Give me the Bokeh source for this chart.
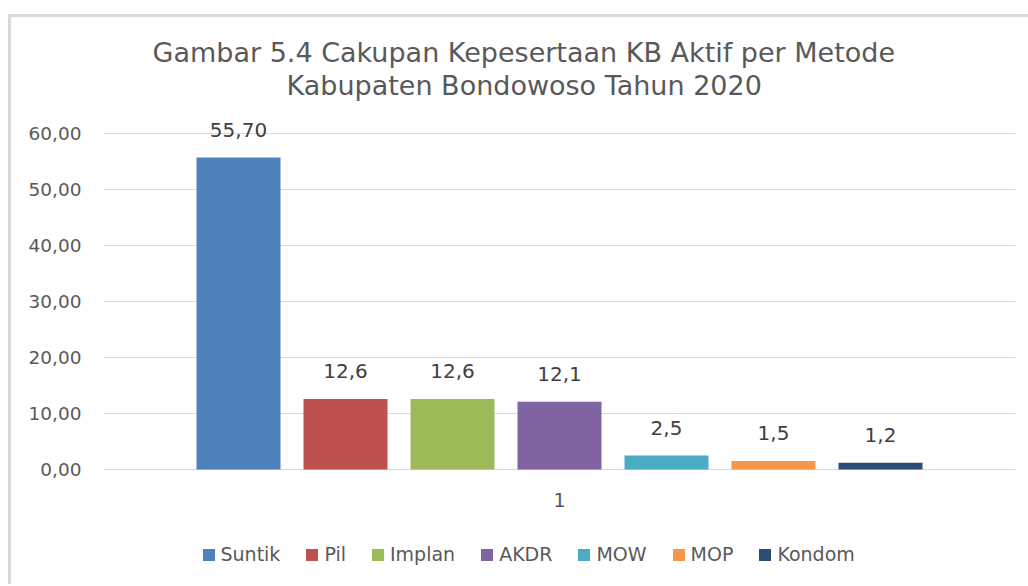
from bokeh.plotting import figure
from bokeh.models import (ColumnDataSource, FactorRange, Range1d, FixedTicker,
                          CustomJSTickFormatter, Legend, LegendItem, Title)
from bokeh.transform import dodge
from bokeh.embed import file_html
from bokeh.resources import INLINE
from bokeh.core.properties import value

# ---- data ----
category = ["1"]
methods = ["Suntik", "Pil", "Implan", "AKDR", "MOW", "MOP", "Kondom"]
values = [55.70, 12.6, 12.6, 12.1, 2.5, 1.5, 1.2]
value_labels = ["55,70", "12,6", "12,6", "12,1", "2,5", "1,5", "1,2"]
colors = ["#4F81BD", "#C0504D", "#9BBB59", "#8064A2", "#4BACC6", "#F79646", "#2C4D75"]
y_ticks = [0, 10, 20, 30, 40, 50, 60]
title_lines = ["Gambar 5.4 Cakupan Kepesertaan KB Aktif per Metode",
               "Kabupaten Bondowoso Tahun 2020"]

FONT = "DejaVu Sans"
GRAY = "#595959"

# layout: the 0..60 value axis spans 336 px; the frame extends a little above
# (room for the top data label) and further below (room for the legend).
AXIS_PX = 336
TOP_PX = 20
BOTTOM_PX = 115
FRAME_H = AXIS_PX + TOP_PX + BOTTOM_PX
scale = 60 / AXIS_PX
y_max = 60 + TOP_PX * scale
y_min = -BOTTOM_PX * scale

p = figure(frame_width=912, frame_height=FRAME_H,
           x_range=FactorRange(factors=category),
           y_range=Range1d(y_min, y_max),
           output_backend="svg", toolbar_location=None,
           min_border_left=92, min_border_right=13,
           min_border_top=96, min_border_bottom=0)
p.styles = {"margin-left": "8px", "margin-top": "14px",
            "border-left": "3px solid #d9d9d9", "border-top": "3px solid #d9d9d9"}
p.outline_line_color = None
p.background_fill_color = "white"
p.border_fill_color = "white"

# axes
p.yaxis.ticker = FixedTicker(ticks=y_ticks)
p.yaxis.formatter = CustomJSTickFormatter(code="return tick.toFixed(2).replace('.', ',');")
for ax in (p.xaxis, p.yaxis):
    ax.axis_line_color = None
    ax.major_tick_line_color = None
    ax.minor_tick_line_color = None
    ax.major_tick_out = 0
    ax.major_tick_in = 0
    ax.major_label_text_font = FONT
    ax.major_label_text_color = GRAY
p.yaxis.major_label_text_font_size = "18.5px"
p.yaxis.major_label_standoff = 22
p.xaxis.major_label_text_font_size = "19px"
p.xaxis.major_label_standoff = 23
p.xaxis.fixed_location = 0

p.xgrid.grid_line_color = None
p.ygrid.grid_line_color = "#d9d9d9"
p.ygrid.grid_line_width = 1

# bars
n = len(methods)
pitch = 107.0 / 912.0
bar_w = 84.0 / 912.0
items = []
for i, (m, v, lab, c) in enumerate(zip(methods, values, value_labels, colors)):
    src = ColumnDataSource(dict(x=category, y=[v], label=[lab]))
    off = (i - (n - 1) / 2) * pitch
    r = p.vbar(x=dodge("x", off, range=p.x_range), top="y", bottom=0, width=bar_w,
               source=src, fill_color=c, line_color=None)
    p.text(x=dodge("x", off, range=p.x_range), y="y", text="label", source=src,
           text_align="center", text_baseline="alphabetic", y_offset=-28,
           text_font=value(FONT), text_font_size="20px", text_color="#404040")
    items.append(LegendItem(label=m, renderers=[r]))

legend = Legend(items=items, orientation="horizontal", location=(97.5, 19),
                label_text_font=FONT, label_text_font_size="19px",
                label_text_color=GRAY, glyph_width=15, glyph_height=15,
                label_standoff=5, spacing=24, padding=0, margin=0,
                border_line_color=None, background_fill_alpha=0)
p.add_layout(legend, "center")

# title: spacer nearest the plot, then line 2, then line 1
p.add_layout(Title(text=" ", text_font_size="1px", standoff=10), "above")
offsets = [49, 183]
for line, off in reversed(list(zip(title_lines, offsets))):
    p.add_layout(Title(text=line, align="left", offset=off, standoff=0,
                       text_font=FONT, text_font_size="27px",
                       text_font_style="normal", text_color=GRAY), "above")

open("out.html", "w").write(file_html(p, INLINE))
